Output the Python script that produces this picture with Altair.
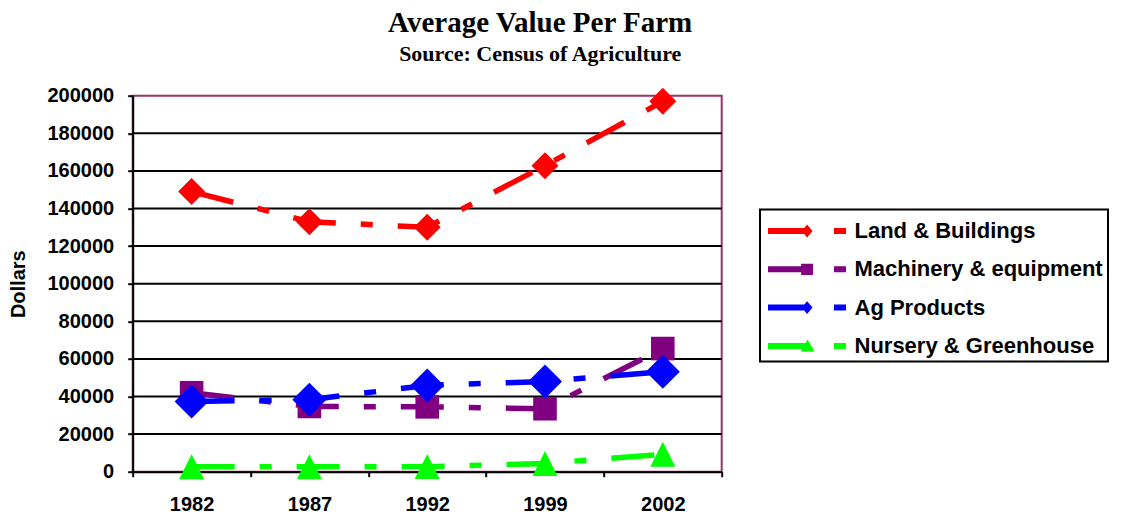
import altair as alt
import pandas as pd

# Census years on the category axis
years = ["1982", "1987", "1992", "1999", "2002"]

series_names = [
    "Land & Buildings",
    "Machinery & equipment",
    "Ag Products",
    "Nursery & Greenhouse",
]

# Average value per farm, dollars
land_buildings = [149000, 133000, 130000, 162800, 197000]
machinery = [42000, 34700, 34500, 33500, 65500]
ag_products = [37400, 38300, 45900, 48000, 53200]
nursery = [2600, 2600, 2700, 4400, 9300]

y_ticks = [0, 20000, 40000, 60000, 80000, 100000, 120000, 140000, 160000, 180000, 200000]
grid_values = y_ticks[1:-1]

series_colors = ["#FF0000", "#800080", "#0000FF", "#00FF00"]

# marker glyphs (unit box -1..1) and areas for each series
DIAMOND = "M0,-1L1,0L0,1L-1,0Z"
TRIANGLE = "M0,-1L1,1L-1,1Z"
marker_shapes = [DIAMOND, "square", DIAMOND, TRIANGLE]
marker_sizes = [729, 557, 1156, 625]

# legend glyph: solid line ending in the marker, then a short dash.
# Drawn on a 34px symbol box (unit = 17px) and running past it to the right.
LEG_LINE = "M-1,-0.176H1.35V0.176H-1Z"
LEG_DASH = "M2.88,-0.176H3.59V0.176H2.88Z"
legend_markers = [
    "M1.3,-0.38L1.62,0L1.3,0.38L0.98,0Z",
    "M0.95,-0.33H1.65V0.33H0.95Z",
    "M1.3,-0.38L1.62,0L1.3,0.38L0.98,0Z",
    "M1.33,-0.38L1.74,0.33L0.92,0.33Z",
]
legend_glyphs = [LEG_LINE + m + LEG_DASH for m in legend_markers]

values_by_series = [land_buildings, machinery, ag_products, nursery]
rows = []
for name, vals in zip(series_names, values_by_series):
    for yr, v in zip(years, vals):
        rows.append({"series": name, "year": yr, "value": v})
df = pd.DataFrame(rows)
grid_df = pd.DataFrame({"value": grid_values})

SANS = "Liberation Sans"
SERIF = "Liberation Serif"

x_enc = alt.X(
    "year:N",
    sort=years,
    scale=alt.Scale(domain=years, paddingInner=0, paddingOuter=0),
    axis=alt.Axis(
        title=None,
        labelAngle=0,
        tickBand="extent",
        labelPadding=18,
        tickSize=5,
        grid=False,
    ),
)
y_scale = alt.Scale(domain=[0, 200000], nice=False)
y_axis = alt.Axis(
    title="Dollars",
    values=y_ticks,
    format="d",
    grid=False,
    tickSize=5,
    labelPadding=14,
    titleX=-114.7,
    titleBaseline="middle",
)
y_enc = alt.Y("value:Q", scale=y_scale, axis=y_axis)

base = alt.Chart(df).encode(x=x_enc, y=y_enc)

# horizontal gridlines (the top edge is the plot frame)
grid = alt.Chart(grid_df).mark_rule(color="black", strokeWidth=2).encode(y=y_enc)

# dashed series lines; stroke scale kept separate from the legend's colour scale
lines = base.mark_line(strokeWidth=5.5, strokeDash=[43, 25, 12, 25]).encode(
    stroke=alt.Stroke(
        "series:N",
        sort=series_names,
        scale=alt.Scale(range=series_colors),
        legend=None,
    )
)

marker_layers = []
for name, color, shape, size in zip(series_names, series_colors, marker_shapes, marker_sizes):
    marker_layers.append(
        base.transform_filter(alt.datum.series == name).mark_point(
            shape=shape, size=size, filled=True, color=color, opacity=1, strokeWidth=0
        )
    )

legend = alt.Legend(
    title=None,
    orient="none",
    legendX=627.3,
    legendY=113.8,
    strokeColor="black",
    fillColor="white",
    padding=4.5,
    rowPadding=10.3,
    symbolSize=1156,
    symbolStrokeWidth=0,
    symbolOpacity=1,
    symbolOffset=3.5,
    labelOffset=52.5,
    labelFont=SANS,
    labelFontSize=22,
    labelFontWeight="bold",
    labelColor="black",
    labelLimit=400,
)

# legend-only layer: carries the colour and glyph scales, draws no marks
legend_layer = (
    base.transform_filter("false")
    .mark_point(filled=True, opacity=1)
    .encode(
        color=alt.Color(
            "series:N",
            scale=alt.Scale(domain=series_names, range=series_colors),
            legend=legend,
        ),
        shape=alt.Shape(
            "series:N",
            scale=alt.Scale(domain=series_names, range=legend_glyphs),
            legend=legend,
        ),
    )
)

chart = (
    alt.layer(grid, lines, *marker_layers, legend_layer)
    .properties(
        width=589,
        height=376,
        autosize=alt.AutoSizeParams(type="none"),
        padding={"left": 132.7, "top": 95.7, "right": 400.3, "bottom": 42.3},
        title=alt.TitleParams(
            text="Average Value Per Farm",
            subtitle="Source: Census of Agriculture",
            font=SERIF,
            fontSize=29,
            fontWeight="bold",
            color="black",
            subtitleFont=SERIF,
            subtitleFontSize=22,
            subtitleFontWeight="bold",
            subtitleColor="black",
            subtitlePadding=6,
            anchor="middle",
            frame="group",
            dx=113,
            offset=21,
        ),
    )
    .configure_view(stroke="#993366", strokeWidth=2)
    .configure_axis(
        labelFont=SANS,
        labelFontSize=20,
        labelFontWeight="bold",
        labelColor="black",
        titleFont=SANS,
        titleFontSize=20,
        titleFontWeight="bold",
        titleColor="black",
        domainColor="black",
        domainWidth=2,
        tickColor="black",
        tickWidth=2,
    )
    .configure_legend(strokeWidth=2)
)

chart.save("out.html", embed_options={"renderer": "svg", "actions": False})
